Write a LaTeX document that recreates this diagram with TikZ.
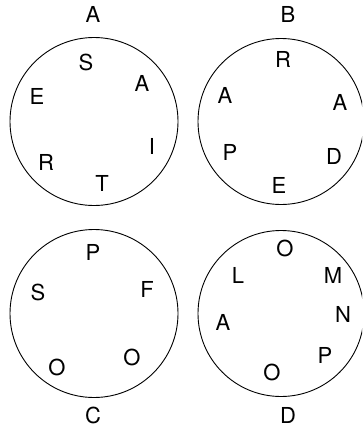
\documentclass[tikz,border=0pt]{standalone}
\usepackage{fontspec}
\setmainfont{TeX Gyre Heros}
\begin{document}
\begin{tikzpicture}[x=1pt,y=-1pt,
  ring/.style={draw,line width=0.9pt},
  lt/.style={font=\fontsize{22}{26}\selectfont,inner sep=0pt,anchor=center}]
\useasboundingbox (0,0) rectangle (362,431);
\clip (0,0) rectangle (362,431);
% circles
\node[ring,circle,minimum size=168pt,inner sep=0pt] (cA) at (94,121.5) {};
\node[ring,circle,minimum size=166pt,inner sep=0pt] (cB) at (281,121.5) {};
\node[ring,circle,minimum size=168pt,inner sep=0pt] (cC) at (94,313.5) {};
\node[ring,circle,minimum size=166pt,inner sep=0pt] (cD) at (281,313.5) {};
% titles
\node[lt] (tA) at (93,14) {A};
\node[lt] (tB) at (288,14) {B};
\node[lt] (tC) at (93,415) {C};
\node[lt] (tD) at (288,415) {D};
% A
\node[lt] (a1) at (86,62) {S};
\node[lt] (a2) at (142,83) {A};
\node[lt] (a3) at (37,96) {E};
\node[lt] (a4) at (152,146) {I};
\node[lt] (a5) at (46,162) {R};
\node[lt] (a6) at (102,183) {T};
% B
\node[lt] (b1) at (283,59) {R};
\node[lt] (b2) at (225,95) {A};
\node[lt] (b3) at (340,102) {A};
\node[lt] (b4) at (230,152) {P};
\node[lt] (b5) at (334,156) {D};
\node[lt] (b6) at (279,185) {E};
% C
\node[lt] (c1) at (93,252) {P};
\node[lt] (c2) at (38,292) {S};
\node[lt] (c3) at (147,289) {F};
\node[lt] (c4) at (132,357) {O};
\node[lt] (c5) at (57,367) {O};
% D
\node[lt] (d1) at (285,248) {O};
\node[lt] (d2) at (238,275) {L};
\node[lt] (d3) at (333,275) {M};
\node[lt] (d4) at (343,314) {N};
\node[lt] (d5) at (223,322) {A};
\node[lt] (d6) at (325,355) {P};
\node[lt] (d7) at (272,372) {O};
\end{tikzpicture}
\end{document}
